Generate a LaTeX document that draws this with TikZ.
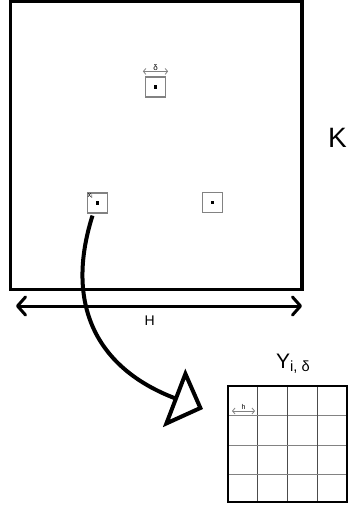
\documentclass[tikz,border=0pt]{standalone}
\usepackage{fontspec}
\setmainfont{Liberation Sans}
\usetikzlibrary{arrows.meta, positioning}
\definecolor{cGrey}{RGB}{130,130,130}
\tikzset{
	cellbox/.style ={rectangle, draw=cGrey, line width=1.2pt, minimum size=20pt, inner sep=0pt},
	centdot/.style ={rectangle, fill=black, minimum size=3.5pt, inner sep=0pt},
	dimthin/.style ={{Straight Barb[length=2.5pt,width=6pt]}-{Straight Barb[length=2.5pt,width=6pt]}, draw=cGrey, line width=0.8pt},
	dimthick/.style={{Straight Barb[length=8pt,width=18pt,round]}-{Straight Barb[length=8pt,width=18pt,round]}, line width=3pt},
	maparrow/.style={-{Triangle[open, length=31pt, width=62pt, line width=4pt]}, line width=4pt},
	lbl/.style     ={inner sep=0pt, anchor=base west},
	gridv/.style   ={draw=black!70, line width=1.3pt},
	gridh/.style   ={draw=cGrey, line width=0.9pt},
}

\begin{document}
\begin{tikzpicture}[x=1pt, y=-1pt]
	\useasboundingbox (0,0) rectangle (349,510);
	\draw[line width=3.5pt] (10.5,1.5) rectangle (302,289.7);
	\node[lbl, font=\fontsize{28}{28}\selectfont] (Klab) at (328,148) {K};
	\node[cellbox] (cellT) at (155.5,87) {};
	\node[centdot] at (cellT) {};
	\node[cellbox] (cellL) at (97.5,203) {};
	\node[centdot] at (cellL) {};
	\node[cellbox] (cellR) at (212.5,202.5) {};
	\node[centdot] at (cellR) {};
	\draw[dimthin] ([xshift=-2pt, yshift=5pt]cellT.north west) -- ([xshift=2pt, yshift=5pt]cellT.north east)
		node[midway, above=0.5pt, inner sep=0pt, font=\fontsize{8}{8}\selectfont] (dlab) {δ};
	\node[anchor=north west, inner sep=0pt, font=\fontsize{7.5}{7.5}\selectfont] (xlab) at ([xshift=0.5pt, yshift=-1pt]cellL.north west) {x\textsubscript{i}};
	\coordinate (hL) at (16,306);
	\coordinate (hR) at (302,306);
	\draw[dimthick] (hL) -- (hR);
	\node[lbl, font=\fontsize{14}{14}\selectfont] (Hlab) at (144.5,325) {H};
	\coordinate (mapEnd) at (203,409);
	\draw[maparrow] ([xshift=-5pt, yshift=-2pt]cellL.south) .. controls (64.5,304) and (96,368) .. (mapEnd);
	\node[lbl, font=\fontsize{21}{21}\selectfont] (Ylab) at (276,368) {Y\textsubscript{i, δ}};
	\foreach \i in {1,2,3} {
		\draw[gridv] ({228+29.75*\i},386) -- ({228+29.75*\i},502);
		\draw[gridh] (228,{386+29.5*\i}) -- (347,{386+29.5*\i});
	}
	\draw[line width=2pt] (228,386) rectangle (347,502);
	\draw[dimthin] (232,411) -- (255,411) node[midway, above=1pt, inner sep=0pt, font=\fontsize{7}{7}\selectfont] (hlab) {h};
\end{tikzpicture}
\end{document}
